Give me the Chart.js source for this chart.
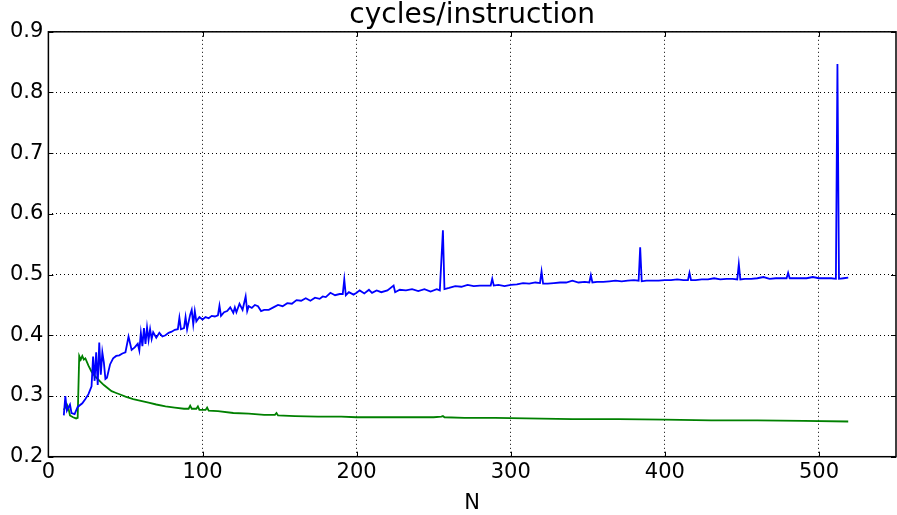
<!DOCTYPE html>
<html>
<head>
<meta charset="utf-8">
<script src="https://cdn.jsdelivr.net/npm/chart.js@4"></script>
<style>
  html, body { margin:0; padding:0; background:#fff; }
  #wrap { width:897px; height:515px; }
</style>
</head>
<body>
<div id="wrap"><canvas id="c"></canvas></div>
<script>
// blue series
var blueN = [10,11,12,14,15,17,19,22,24,26,28,29,30,31,32,33,34,35,36,37,38,40,42,44,46,48,50,52,54,56,58,59,60,61,62,63,64,65,66,67,68,70,72,74,76,78,80,82,84,85,86,88,89,90,92,93,94,95,96,98,100,102,104,106,108,110,111,112,114,116,118,120,121,122,124,126,128,129,130,132,134,136,138,140,143,146,149,152,155,158,161,164,167,170,173,176,178,180,183,186,189,191,192,193,195,198,200,202,205,208,210,213,216,220,224,225,228,232,236,240,244,248,252,254,256,257,260,264,268,272,276,280,284,287,288,289,292,296,300,304,308,312,316,319,320,321,324,328,332,336,340,344,348,351,352,353,356,360,364,368,372,376,380,383,384,385,388,392,396,400,404,408,412,415,416,417,420,424,428,432,436,440,444,447,448,449,452,456,460,464,468,472,476,479,480,481,484,488,492,496,500,504,508,511,512,513,516,519];
var blueV = [0.268,0.300,0.276,0.286,0.272,0.270,0.282,0.288,0.295,0.303,0.316,0.365,0.325,0.372,0.318,0.388,0.335,0.372,0.355,0.328,0.330,0.352,0.362,0.366,0.367,0.370,0.372,0.398,0.376,0.380,0.386,0.375,0.404,0.382,0.412,0.386,0.413,0.392,0.410,0.394,0.405,0.396,0.404,0.398,0.400,0.404,0.406,0.409,0.410,0.429,0.410,0.412,0.430,0.410,0.434,0.442,0.418,0.440,0.423,0.430,0.426,0.430,0.428,0.432,0.431,0.433,0.449,0.432,0.438,0.440,0.446,0.437,0.446,0.438,0.452,0.442,0.464,0.440,0.448,0.445,0.450,0.448,0.440,0.442,0.442,0.446,0.450,0.448,0.453,0.452,0.458,0.457,0.461,0.457,0.462,0.460,0.464,0.463,0.470,0.466,0.468,0.468,0.492,0.466,0.471,0.467,0.470,0.474,0.469,0.475,0.470,0.474,0.471,0.474,0.482,0.471,0.475,0.474,0.476,0.473,0.476,0.472,0.476,0.474,0.573,0.476,0.478,0.481,0.480,0.483,0.481,0.482,0.482,0.482,0.493,0.482,0.483,0.481,0.483,0.484,0.486,0.485,0.487,0.486,0.505,0.485,0.485,0.486,0.487,0.487,0.490,0.487,0.488,0.487,0.499,0.487,0.488,0.488,0.489,0.490,0.489,0.490,0.491,0.490,0.545,0.489,0.490,0.490,0.490,0.491,0.491,0.492,0.491,0.491,0.503,0.491,0.491,0.492,0.492,0.494,0.492,0.493,0.493,0.492,0.517,0.492,0.493,0.493,0.494,0.496,0.493,0.494,0.494,0.494,0.503,0.494,0.494,0.494,0.494,0.496,0.494,0.494,0.494,0.493,0.847,0.493,0.494,0.495];

// green series
var greenN = [10,12,13,14,16,18,19,20,21,22,23,24,26,28,30,32,34,36,38,41,44,47,50,55,60,65,70,76,82,88,91,92,93,96,97,98,102,103,104,110,120,130,140,147,148,149,160,175,190,200,215,230,250,255,256,257,270,290,310,340,370,400,430,460,490,519];
var greenV = [0.277,0.286,0.280,0.268,0.265,0.263,0.264,0.366,0.360,0.366,0.360,0.362,0.350,0.340,0.333,0.328,0.323,0.318,0.314,0.308,0.305,0.302,0.299,0.295,0.292,0.289,0.286,0.283,0.281,0.279,0.279,0.284,0.279,0.279,0.283,0.277,0.277,0.281,0.276,0.275,0.272,0.271,0.269,0.269,0.272,0.268,0.267,0.266,0.266,0.265,0.265,0.265,0.265,0.266,0.267,0.265,0.264,0.264,0.263,0.262,0.262,0.261,0.260,0.260,0.259,0.258];

var xTicks = [0,100,200,300,400,500];
var yTicks = [0.2,0.3,0.4,0.5,0.6,0.7,0.8,0.9];

function pts(xs, ys){
  return xs.map(function(x,i){ return {x:x, y:ys[i]}; });
}

// box round the plot and small inward ticks, like matplotlib
var frame = {
  id:'frame',
  afterDraw: function(chart){
    var a = chart.chartArea, ctx = chart.ctx;
    var sx = chart.scales.x, sy = chart.scales.y;
    ctx.save();
    ctx.strokeStyle = '#000';
    ctx.lineWidth = 1;
    ctx.beginPath();
    xTicks.forEach(function(t){
      var p = Math.round(sx.getPixelForValue(t)) + 0.5;
      ctx.moveTo(p, a.bottom); ctx.lineTo(p, a.bottom - 5);
      ctx.moveTo(p, a.top); ctx.lineTo(p, a.top + 5);
    });
    yTicks.forEach(function(t){
      var p = Math.round(sy.getPixelForValue(t)) + 0.5;
      ctx.moveTo(a.left, p); ctx.lineTo(a.left + 5, p);
      ctx.moveTo(a.right, p); ctx.lineTo(a.right - 5, p);
    });
    ctx.stroke();
    ctx.lineWidth = 1.5;
    ctx.strokeRect(a.left, a.top, a.right - a.left, a.bottom - a.top);
    ctx.restore();
  }
};

Chart.defaults.font.family = 'DejaVu Sans';
Chart.defaults.color = '#000';

new Chart(document.getElementById('c'), {
  type: 'line',
  data: {
    datasets: [
      { data: pts(blueN, blueV), borderColor:'#0000ff', borderWidth:1.8, pointRadius:0, tension:0 },
      { data: pts(greenN, greenV), borderColor:'#008000', borderWidth:1.8, pointRadius:0, tension:0 }
    ]
  },
  options: {
    responsive: true,
    maintainAspectRatio: false,
    animation: false,
    layout: { padding: { left: 5, right: 1, top: 0, bottom: 0 } },
    plugins: {
      legend: { display:false },
      tooltip: { enabled:false },
      title: { display:true, fullSize:false, text:'cycles/instruction', font:{ size:28, weight:'normal', lineHeight:1.1 }, padding:{ top:0, bottom:1 } }
    },
    scales: {
      x: {
        type:'linear', min:0, max:550,
        afterBuildTicks: function(s){ s.ticks = xTicks.map(function(v){ return {value:v}; }); },
        ticks: { font:{ size:21 }, maxRotation:0, padding:3 },
        grid: { color:'#000', lineWidth:1, drawTicks:false },
        border: { display:false, dash:[1,3] },
        title: { display:true, text:'N', font:{ size:21, lineHeight:1.1 }, padding:{ top:4, bottom:0 } }
      },
      y: {
        min:0.2, max:0.9,
        afterBuildTicks: function(s){ s.ticks = yTicks.map(function(v){ return {value:v}; }); },
        ticks: { font:{ size:21 }, padding:5, callback:function(v){ return v.toFixed(1); } },
        grid: { color:'#000', lineWidth:1, drawTicks:false },
        border: { display:false, dash:[1,3] }
      }
    }
  },
  plugins: [frame]
});
</script>
</body>
</html>
